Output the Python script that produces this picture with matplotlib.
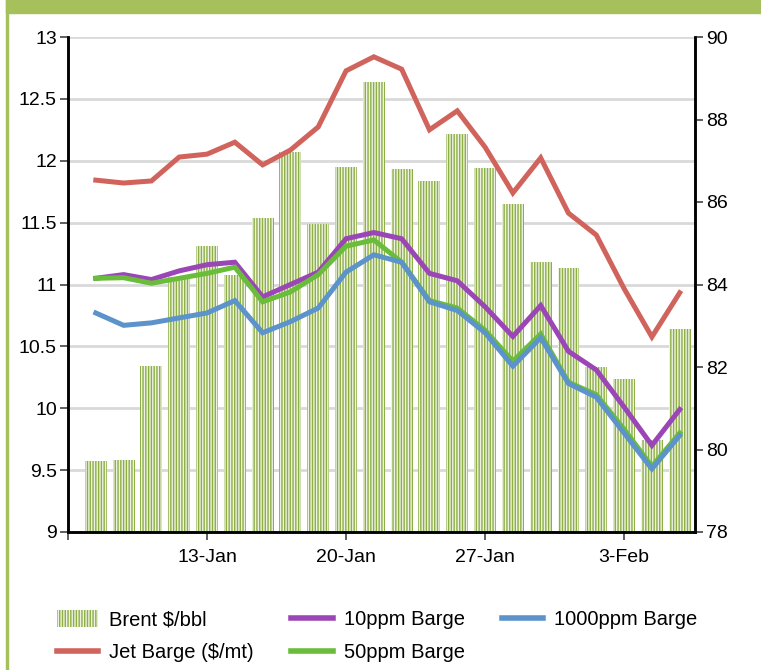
import matplotlib.pyplot as plt
from matplotlib.patches import Rectangle, Patch
from matplotlib.lines import Line2D
import numpy as np

plt.rcParams['font.family'] = ['Liberation Sans', 'DejaVu Sans']
plt.rcParams['hatch.linewidth'] = 1.0

# daily values, 22 business days
brent = [9.57, 9.58, 10.34, 11.06, 11.31, 11.08, 11.54, 12.07, 11.49, 11.95, 12.64,
         11.93, 11.84, 12.22, 11.94, 11.65, 11.18, 11.13, 10.33, 10.24, 9.74, 10.64]
ppm10 = [11.05, 11.08, 11.04, 11.11, 11.16, 11.18, 10.90, 11.00, 11.10, 11.37, 11.42,
         11.37, 11.09, 11.03, 10.82, 10.58, 10.83, 10.46, 10.31, 10.01, 9.70, 9.99]
ppm50 = [11.05, 11.055, 11.01, 11.05, 11.09, 11.14, 10.86, 10.94, 11.08, 11.31, 11.36,
         11.18, 10.87, 10.81, 10.63, 10.38, 10.60, 10.21, 10.11, 9.83, 9.53, 9.80]
ppm1000 = [10.77, 10.67, 10.69, 10.73, 10.77, 10.87, 10.61, 10.70, 10.81, 11.10, 11.24,
           11.18, 10.86, 10.79, 10.61, 10.34, 10.57, 10.20, 10.09, 9.80, 9.51, 9.78]
jet = [86.53, 86.46, 86.51, 87.09, 87.16, 87.45, 86.90, 87.26, 87.82, 89.18, 89.52,
       89.22, 87.75, 88.21, 87.33, 86.22, 87.07, 85.73, 85.20, 83.90, 82.73, 83.80]
tick_pos = [-1, 4, 9, 14, 19]
tick_labels = ['', '13-Jan', '20-Jan', '27-Jan', '3-Feb']

bar_green = '#8DAF45'
red = '#D0635B'
purple = '#9B46B6'
green = '#6ABD3B'
blue = '#5B93CA'

fig = plt.figure(figsize=(7.61, 6.70), dpi=100)
ax = fig.add_axes([68/761, 1 - 532/670, 627/761, 495/670])
ax2 = ax.twinx()

x = np.arange(len(brent))
ax.bar(x, brent, width=0.79, color='#EEF3E2', edgecolor=bar_green, linewidth=0,
       hatch='||||||', zorder=2)
ax.plot(x, ppm10, color=purple, lw=3.6, zorder=4, solid_joinstyle='miter')
ax.plot(x, ppm50, color=green, lw=3.6, zorder=4, solid_joinstyle='miter')
ax.plot(x, ppm1000, color=blue, lw=3.6, zorder=5, solid_joinstyle='miter')
ax2.plot(x, jet, color=red, lw=3.6, solid_joinstyle='miter')

ax.set_ylim(9, 13)
ax.set_yticks(np.arange(9, 13.01, 0.5))
ax.set_yticklabels(['9', '9.5', '10', '10.5', '11', '11.5', '12', '12.5', '13'])
ax2.set_ylim(78, 90)
ax2.set_yticks(range(78, 91, 2))
ax.set_xlim(-1, 21.55)
ax.set_xticks(tick_pos)
ax.set_xticklabels(tick_labels)
ax.grid(axis='y', color='#D9D9D9', lw=2, zorder=0)
ax.set_axisbelow(True)

for a in (ax, ax2):
    a.spines['top'].set_visible(False)
    for s in ('left', 'right', 'bottom'):
        a.spines[s].set_linewidth(1.8)
        a.spines[s].set_color('black')
    a.tick_params(labelsize=14, length=6, width=1.2, color='#444444', pad=2)
ax.tick_params(axis='x', pad=6)

handles = [Patch(facecolor='#EEF3E2', edgecolor=bar_green, linewidth=0, hatch='||||||'),
           Line2D([], [], color=red, lw=4),
           Line2D([], [], color=purple, lw=4),
           Line2D([], [], color=green, lw=4),
           Line2D([], [], color=blue, lw=4)]
labels = ['Brent $/bbl', 'Jet Barge ($/mt)', '10ppm Barge', '50ppm Barge', '1000ppm Barge']
fig.legend(handles, labels, ncol=3, loc='upper left', bbox_to_anchor=(57/761, 1 - 610/670),
           frameon=False, fontsize=14.5, handlelength=2.05, handleheight=0.9,
           columnspacing=1.85, labelspacing=0.68, handletextpad=0.55,
           borderpad=0, borderaxespad=0)

# green frame
frame = '#A6C05B'
fig.patches.append(Rectangle((6/761, 1 - 13/670), 1, 13/670, transform=fig.transFigure,
                             color=frame, zorder=0))
fig.patches.append(Rectangle((6/761, 0), 2.5/761, 1, transform=fig.transFigure,
                             color=frame, zorder=0))

fig.savefig('out.png', dpi=100)
